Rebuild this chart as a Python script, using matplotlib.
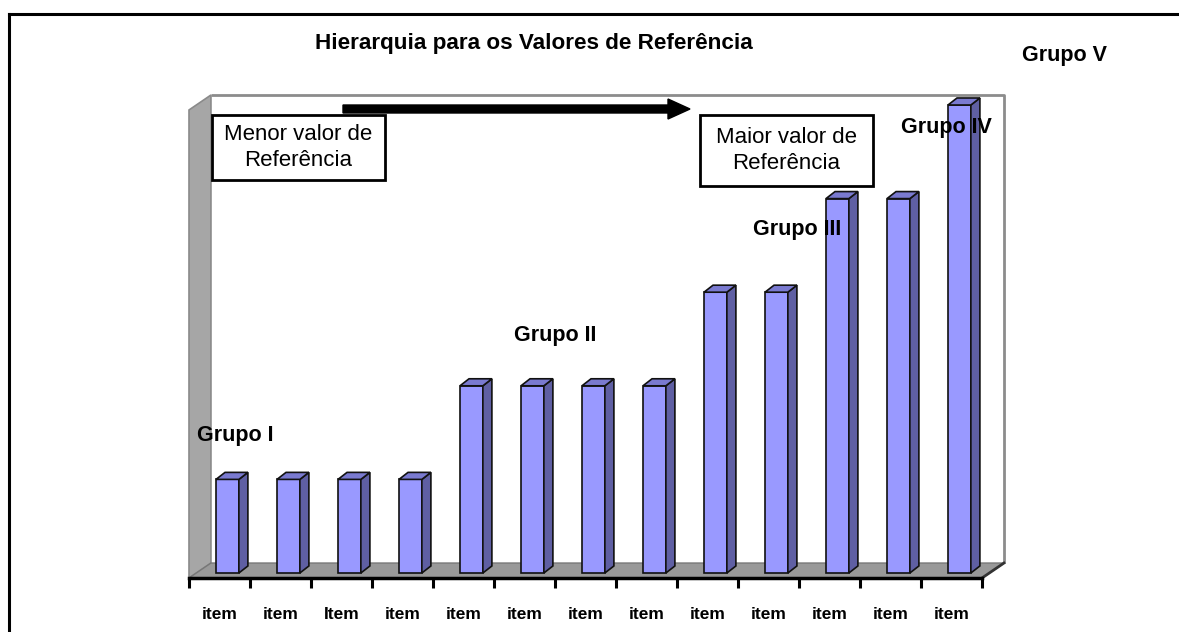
import matplotlib
matplotlib.use("Agg")
import matplotlib.pyplot as plt
from matplotlib.patches import Polygon, Rectangle, FancyArrow
from matplotlib.lines import Line2D
import numpy as np

plt.rcParams['font.family'] = ['Liberation Sans', 'DejaVu Sans']

# data
categories = ['item', 'item', 'Item', 'item', 'item', 'item', 'item',
              'item', 'item', 'item', 'item', 'item', 'item']
values = [1, 1, 1, 1, 2, 2, 2, 2, 3, 3, 4, 4, 5]
group_names = ['Grupo I', 'Grupo II', 'Grupo III', 'Grupo IV', 'Grupo V']
title = 'Hierarquia para os Valores de Referência'
box_left = 'Menor valor de\nReferência'
box_right = 'Maior valor de\nReferência'

W, H = 1179, 632


def fx(x):
    return x / W


def fy(y):
    return 1 - y / H


fig = plt.figure(figsize=(W / 100, H / 100), dpi=100)
fig.patch.set_facecolor('white')

ax = fig.add_axes([fx(189), fy(578), 793 / W, 483 / H])
n = len(values)
y0 = -5 / 93.6
ytop = (573 - 95) / 93.6
ax.set_xlim(-0.5, n - 0.5)
ax.set_ylim(y0, ytop)
ax.patch.set_visible(False)
for s in ['top', 'right', 'left']:
    ax.spines[s].set_visible(False)
ax.spines['bottom'].set_linewidth(2.5)
ax.spines['bottom'].set_color('black')
ax.set_yticks([])

# 3d box (walls + floor)
DX, DY = 0.36, 0.16
xl, xr = -0.5, n - 0.5
ax.add_patch(Polygon([(xl, y0), (xl, ytop - DY), (xl + DX, ytop), (xl + DX, y0 + DY)],
                     closed=True, facecolor='#a6a6a6', edgecolor='#8a8a8a', lw=1.2, zorder=1,
                     clip_on=False))
ax.add_patch(Polygon([(xl, y0), (xl + DX, y0 + DY), (xr + DX, y0 + DY), (xr, y0)],
                     closed=True, facecolor='#999999', edgecolor='#777777', lw=1, zorder=1,
                     clip_on=False))
ax.plot([xl + DX, xr + DX, xr + DX], [ytop, ytop, y0 + DY], color='#8c8c8c', lw=2,
        clip_on=False, zorder=1, solid_capstyle='butt')
ax.plot([xr + DX, xr], [y0 + DY, y0], color='#333333', lw=2, clip_on=False, zorder=1)

# bars
off, w = 0.13, 0.375
bdx, bdy = 0.148, 0.075
x = np.arange(n) + off
ax.bar(x, values, width=w, color='#9999ff', edgecolor='#111111', linewidth=1.2, zorder=3)
for xi, v in zip(x, values):
    l, r = xi - w / 2, xi + w / 2
    ax.add_patch(Polygon([(r, 0), (r + bdx, bdy), (r + bdx, v + bdy), (r, v)], closed=True,
                         facecolor='#5f5fa3', edgecolor='#111111', lw=1.2, zorder=3))
    ax.add_patch(Polygon([(l, v), (l + bdx, v + bdy), (r + bdx, v + bdy), (r, v)], closed=True,
                         facecolor='#7a7ad0', edgecolor='#111111', lw=1.2, zorder=3))

# ticks
ax.set_xticks(np.arange(-0.5, n, 1.0))
ax.set_xticklabels([])
ax.tick_params(axis='x', which='major', length=7, width=2.2, direction='out', color='black')
ax.set_xticks(np.arange(n), minor=True)
ax.set_xticklabels(categories, minor=True, fontsize=12.5, fontweight='bold')
ax.tick_params(axis='x', which='minor', length=0, pad=21)

# title and group labels
fig.text(fx(534), fy(44), title, ha='center', va='center', fontsize=16.2, fontweight='bold')
group_pos = [(197, 435), (514, 336), (753, 230), (901, 127), (1022, 55)]
for name, (gx, gy) in zip(group_names, group_pos):
    fig.text(fx(gx), fy(gy), name, ha='left', va='center', fontsize=15.5, fontweight='bold',
             zorder=5)

# reference boxes
for (bx0, by0, bx1, by1), txt in zip([(212, 115, 385, 180), (700, 115, 873, 186)],
                                     [box_left, box_right]):
    fig.add_artist(Rectangle((fx(bx0), fy(by1)), (bx1 - bx0) / W, (by1 - by0) / H,
                             transform=fig.transFigure, facecolor='white',
                             edgecolor='black', lw=2, zorder=4))
    fig.text(fx((bx0 + bx1) / 2), fy((by0 + by1) / 2), txt, ha='center', va='center',
             fontsize=16, linespacing=1.3, zorder=5)

# arrow
fig.add_artist(FancyArrow(fx(343), fy(109), (690 - 343) / W, 0, width=8 / H,
                          head_width=20 / H, head_length=22 / W, length_includes_head=True,
                          color='black', transform=fig.transFigure, zorder=4))

# outer frame
fig.add_artist(Line2D([fx(9), fx(9)], [0, fy(14)], color='black', lw=2.2,
                      transform=fig.transFigure))
fig.add_artist(Line2D([fx(9), 1], [fy(14), fy(14)], color='black', lw=2.2,
                      transform=fig.transFigure))

fig.savefig('out.png', dpi=100)
